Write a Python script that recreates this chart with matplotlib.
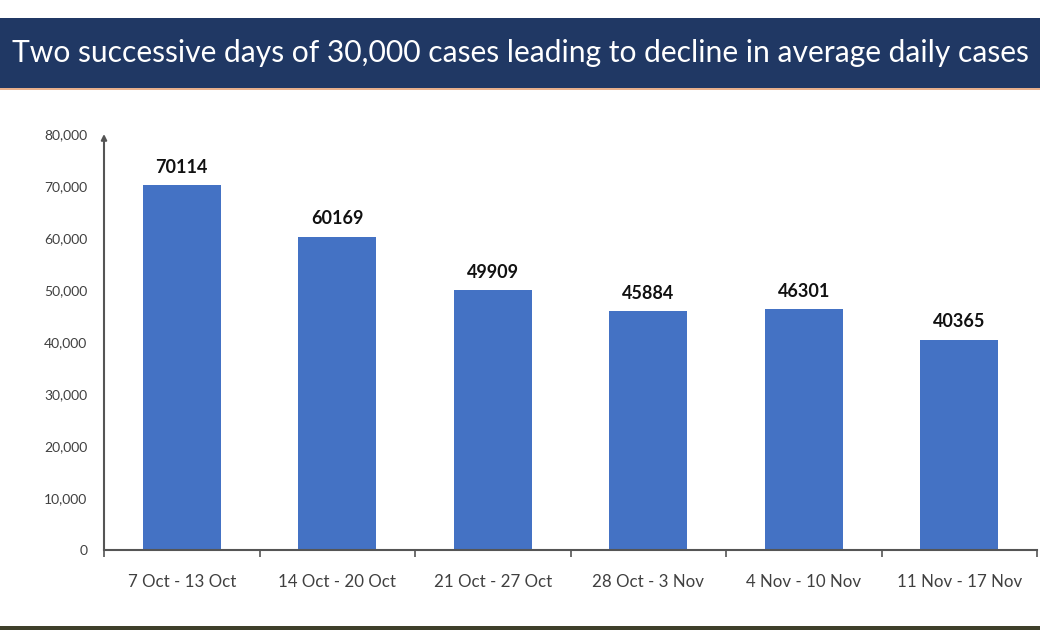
import matplotlib
matplotlib.use("Agg")
import matplotlib.pyplot as plt
from matplotlib.patches import Rectangle
from matplotlib.ticker import FuncFormatter, FixedLocator

categories = ["7 Oct - 13 Oct", "14 Oct - 20 Oct", "21 Oct - 27 Oct",
              "28 Oct - 3 Nov", "4 Nov - 10 Nov", "11 Nov - 17 Nov"]
avg_cases = [70114, 60169, 49909, 45884, 46301, 40365]
y_ticks = [0, 10000, 20000, 30000, 40000, 50000, 60000, 70000, 80000]
title = "Two successive days of 30,000 cases leading to decline in average daily cases"

plt.rcParams['font.family'] = ['Lato', 'DejaVu Sans']

fig = plt.figure(figsize=(10.4, 6.3), dpi=100)
fig.patch.set_facecolor("white")

# title banner
fig.patches.append(Rectangle((0, 1 - 88 / 630), 1, 70 / 630, transform=fig.transFigure,
                             facecolor="#203864", edgecolor="none", zorder=0))
fig.patches.append(Rectangle((0, 1 - 90 / 630), 1, 2 / 630, transform=fig.transFigure,
                             facecolor="#E9B08C", edgecolor="none", zorder=0))
# bottom photo strip
fig.patches.append(Rectangle((0, 0), 1, 4 / 630, transform=fig.transFigure,
                             facecolor="#3E3F2A", edgecolor="none", zorder=0))
fig.text(0.5, 1 - 53 / 630, title, ha="center", va="center", color="white",
         fontsize=21.6, family=['Lato', 'DejaVu Sans'])

ax = fig.add_axes([104 / 1040, 1 - 550 / 630, (1037 - 104) / 1040, 416 / 630])
x = list(range(len(categories)))
bars = ax.bar(x, avg_cases, width=0.5, color="#4472C4", zorder=2)
for xi, v in zip(x, avg_cases):
    ax.annotate(f"{v}", (xi, v), xytext=(0, 7), textcoords="offset points",
                ha="center", va="bottom", fontsize=13, fontweight="bold", color="#111111")

ax.set_xlim(-0.5, len(categories) - 0.5)
ax.set_ylim(0, 80000)
ax.set_yticks(y_ticks)
ax.yaxis.set_major_formatter(FuncFormatter(lambda v, p: f"{int(v):,}"))
ax.tick_params(axis="y", length=0, pad=12, labelsize=10, labelcolor="#404040")
ax.set_xticks(x)
ax.set_xticklabels(categories)
ax.tick_params(axis="x", which="major", length=0, pad=17, labelsize=12.2, labelcolor="#404040")
ax.xaxis.set_minor_locator(FixedLocator([i - 0.5 for i in range(len(categories) + 1)]))
ax.tick_params(axis="x", which="minor", length=5, width=1.2, color="#555555", direction="out")

for s in ["top", "right", "left"]:
    ax.spines[s].set_visible(False)
ax.spines["bottom"].set_color("#555555")
ax.spines["bottom"].set_linewidth(1.5)
ax.annotate("", xy=(0, 1.0), xytext=(0, 0), xycoords="axes fraction",
            arrowprops=dict(arrowstyle="-|>", color="#555555", lw=1.5,
                            mutation_scale=8, shrinkA=0, shrinkB=0))

fig.savefig("out.png", dpi=100)
